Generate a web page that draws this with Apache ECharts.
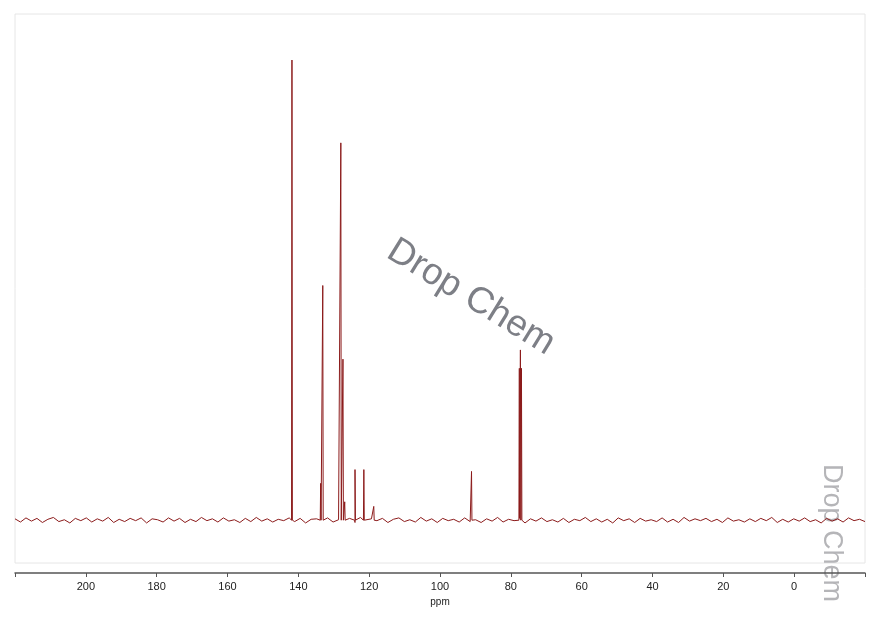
<!DOCTYPE html>
<html>
<head>
<meta charset="utf-8">
<script src="https://cdn.jsdelivr.net/npm/echarts@6/dist/echarts.min.js"></script>
<style>html,body{margin:0;padding:0;background:#fff}#c{width:880px;height:621px}</style>
</head>
<body>
<div id="c"></div>
<script>
// peak positions (ppm) and relative heights (tallest = 100)
const peakPpm = [141.8, 133.7, 133.1, 128.0, 127.4, 126.9, 124.0, 121.5, 118.7, 91.1, 77.6, 77.3, 77.0];
const peakHeight = [100, 8, 51, 82, 35, 4, 11, 11, 3, 10.6, 33, 37, 33];
// baseline noise, read roughly left to right (220 -> -20 ppm)
const noise = [0.3, -0.4, 0.5, -0.2, 0.4, -0.5, 0.2, 0.6, -0.3, 0.1, -0.6, 0.4, -0.1, 0.5, -0.4,
  0.3, -0.2, 0.6, -0.5, 0.2, -0.3, 0.4, -0.1, 0.5, -0.6, 0.3, 0.1, -0.4, 0.5, -0.2,
  0.4, -0.5, 0.2, -0.3, 0.6, -0.1, 0.3, -0.4, 0.5, -0.2, 0.1, -0.5, 0.4, -0.3, 0.6,
  -0.2, 0.3, -0.4, 0.2, -0.1, 0.5, -0.3, 0.4, -0.6, 0.2, 0.3, -0.2, 0.5, -0.4, 0.1,
  -0.3, 0.4, -0.5, 0.6, -0.2, 0.3, -0.1, 0.4, -0.5, 0.2, 0.5, -0.3, 0.1, -0.4, 0.6,
  -0.2, 0.3, -0.5, 0.4, -0.1, 0.2, -0.4, 0.5, -0.3, 0.1, -0.5, 0.3, -0.2, 0.6, -0.4,
  0.2, -0.1, 0.4, -0.6, 0.3, -0.2, 0.5, -0.3, 0.1, -0.4, 0.4, -0.5, 0.2, -0.1, 0.6,
  -0.3, 0.3, -0.4, 0.2, -0.6, 0.5, -0.1, 0.3, -0.5, 0.4, -0.2, 0.1, -0.3, 0.5, -0.4,
  0.2, -0.5, 0.6, -0.2, 0.3, -0.1, 0.4, -0.3, 0.2, -0.5, 0.5, -0.2, 0.1, -0.4, 0.3,
  -0.3, 0.4, -0.1, 0.6, -0.5, 0.2, -0.4, 0.3, -0.2, 0.5, -0.3, 0.1, -0.6, 0.4, -0.2,
  0.3, -0.4, 0.5, -0.1, 0.2, -0.3];
const xTicks = [200, 180, 160, 140, 120, 100, 80, 60, 40, 20, 0];

// build spectrum: noise baseline plus narrow peaks
const pts = [];
const step = 240 / (noise.length - 1);
noise.forEach((v, i) => pts.push([220 - i * step, v]));
peakPpm.forEach((p, i) => {
  pts.push([p + 0.12, 0], [p, peakHeight[i]], [p - 0.12, 0]);
});
pts.sort((a, b) => b[0] - a[0]);

const chart = echarts.init(document.getElementById('c'));
chart.setOption({
  animation: false,
  grid: { left: 15, right: 15, top: 14, bottom: 58, show: true, borderColor: '#e6e6e6', borderWidth: 1 },
  xAxis: {
    type: 'value', inverse: true, min: -20, max: 220, interval: 20, offset: 10,
    name: 'ppm', nameLocation: 'middle', nameGap: 22,
    nameTextStyle: { fontSize: 10, color: '#222', fontFamily: 'Liberation Sans' },
    axisLine: { show: true, onZero: false, lineStyle: { color: '#555', width: 1.5 } },
    axisTick: { show: true, length: 4, lineStyle: { color: '#555' } },
    axisLabel: { color: '#222', fontSize: 11, fontFamily: 'Liberation Sans',
      formatter: v => xTicks.includes(v) ? String(v) : '' },
    splitLine: { show: false }
  },
  yAxis: { type: 'value', min: -9.3, max: 110, show: false },
  series: [{
    type: 'line', data: pts, showSymbol: false, symbol: 'none',
    lineStyle: { color: '#8b1a1a', width: 1 }
  }],
  graphic: [
    { type: 'text', x: 400, y: 232, rotation: -0.55,
      style: { text: 'Drop Chem', fontSize: 37, fill: '#7d7f86', fontFamily: 'Liberation Sans' } },
    { type: 'text', x: 845, y: 464, rotation: -Math.PI / 2,
      style: { text: 'Drop Chem', fontSize: 27, fill: '#b5b5b8', fontFamily: 'Liberation Sans' } }
  ]
});
</script>
</body>
</html>
